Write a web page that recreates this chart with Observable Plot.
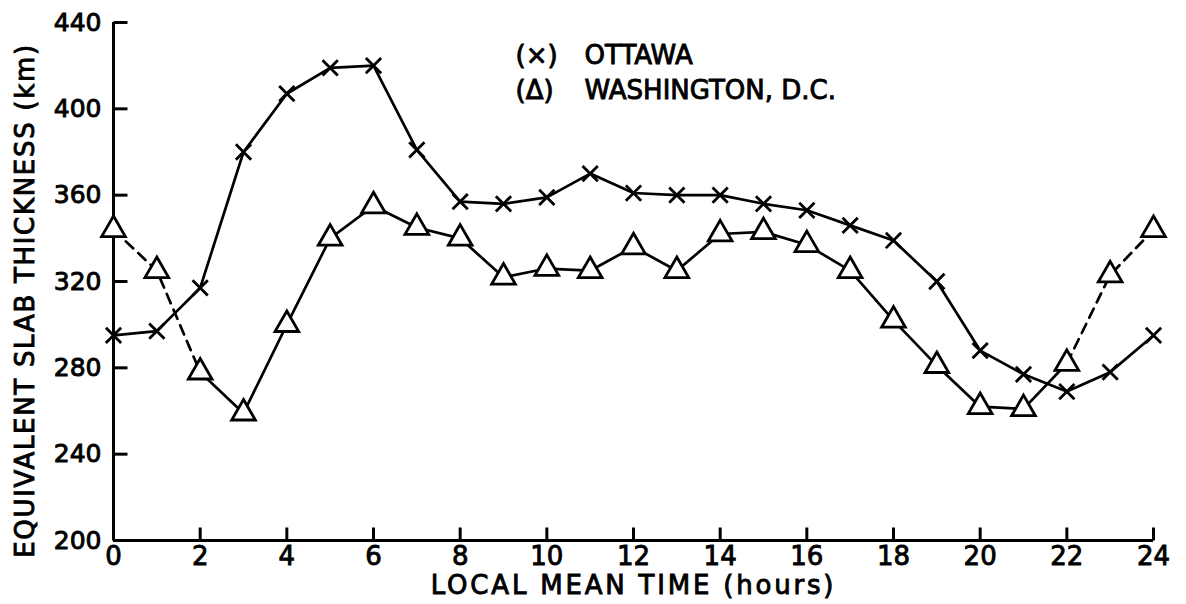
<!DOCTYPE html>
<html><head><meta charset="utf-8">
<script src="https://cdn.jsdelivr.net/npm/d3@7"></script>
<script src="https://cdn.jsdelivr.net/npm/@observablehq/plot@0.6"></script>
<style>
html,body{margin:0;padding:0;background:#fff;}
#chart svg{display:block;}
#chart svg text{stroke:#000;stroke-width:0.9px;}
</style></head><body><div id="chart"></div>
<script>
const hours = [0,1,2,3,4,5,6,7,8,9,10,11,12,13,14,15,16,17,18,19,20,21,22,23,24];
const ottawa = [295,297,317,380,407,419,420,381,357,356,359,370,361,360,360,356,353,346,339,320,288,277,269,278,295];
const washington = [344,325,278,259,300,340,355,345,340,322,326,325,336,325,342,343,337,325,302,281,262,261,282,323,344];
const washingtonDashedRanges = [[0,2],[22,24]];
const xTicks = [0,2,4,6,8,10,12,14,16,18,20,22,24];
const yTicks = [200,240,280,320,360,400,440];
const seriesNames = ["OTTAWA","WASHINGTON, D.C."];
const seriesSymbols = ["(×)","(Δ)"];
const xTitle = "LOCAL MEAN TIME (hours)";
const yTitle = "EQUIVALENT SLAB THICKNESS (km)";

const ott = hours.map((h,i)=>({h, v: ottawa[i]}));
const wash = hours.map((h,i)=>({h, v: washington[i]}));
const solidFrom = washingtonDashedRanges[0][1], solidTo = washingtonDashedRanges[1][0];
const washSolid = wash.filter(d => d.h >= solidFrom && d.h <= solidTo);
const washDashed = [];
washingtonDashedRanges.forEach(([a,b],k) => wash.filter(d => d.h >= a && d.h <= b).forEach(d => washDashed.push({...d, seg:k})));

// tick glyphs (style only): vertical tick pointing up, horizontal tick pointing right
const tickUp = {draw(c){ c.moveTo(0,0); c.lineTo(0,-13); }};
const tickRight = {draw(c){ c.moveTo(0,0); c.lineTo(14,0); }};

const legendText = (txt, dx, dy) => Plot.text([txt], {frameAnchor: "top-left", textAnchor: "start", dx, dy, lineAnchor: "middle", fontSize: 26});

const plot = Plot.plot({
  width: 1186, height: 604,
  marginLeft: 113, marginRight: 33, marginTop: 22, marginBottom: 64,
  style: {fontFamily: "DejaVu Sans", fontSize: "24px", color: "#000", background: "#fff", overflow: "visible"},
  x: {domain: [0,24], axis: null},
  y: {domain: [200,440], axis: null},
  marks: [
    Plot.text(xTicks, {x: d=>d, y: 200, text: d=>String(d), lineAnchor: "top", dy: 6, fontSize: 26}),
    Plot.text(yTicks, {x: 0, y: d=>d, text: d=>String(d), textAnchor: "end", dx: -12, fontSize: 25}),
    Plot.dot(xTicks, {x: d=>d, y: 200, symbol: tickUp, stroke: "#000", fill: "none", strokeWidth: 3}),
    Plot.dot(yTicks, {x: 0, y: d=>d, symbol: tickRight, stroke: "#000", fill: "none", strokeWidth: 3}),
    Plot.ruleX([0], {strokeWidth: 3}),
    Plot.ruleY([200], {strokeWidth: 3}),
    Plot.line(ott, {x: "h", y: "v", stroke: "#000", strokeWidth: 2.7}),
    Plot.line(washSolid, {x: "h", y: "v", stroke: "#000", strokeWidth: 2.7}),
    Plot.line(washDashed, {x: "h", y: "v", z: "seg", stroke: "#000", strokeWidth: 2.7, strokeDasharray: "10,7"}),
    Plot.dot(ott, {x: "h", y: "v", symbol: "times", r: 7, stroke: "#000", strokeWidth: 2.8}),
    Plot.dot(wash, {x: "h", y: "v", symbol: "triangle", r: 8.8, stroke: "#000", fill: "#fff", strokeWidth: 2.8}),
    Plot.text([xTitle], {frameAnchor: "bottom", dy: 45, lineAnchor: "middle", fontSize: 26}),
    Plot.text([yTitle], {frameAnchor: "left", textAnchor: "middle", rotate: -90, dx: -88, dy: 19, lineAnchor: "middle", fontSize: 26}),
    legendText(seriesSymbols[0], 402, 33),
    legendText(seriesNames[0], 471, 33),
    legendText(seriesSymbols[1], 402, 68),
    legendText(seriesNames[1], 471, 68)
  ]
});
d3.select(plot).selectAll("text").each(function(){
  const t = this.textContent;
  if (t === xTitle) this.style.letterSpacing = "2.8px";
  if (t === yTitle) this.style.letterSpacing = "1.7px";
});
document.getElementById("chart").appendChild(plot);
</script></body></html>
